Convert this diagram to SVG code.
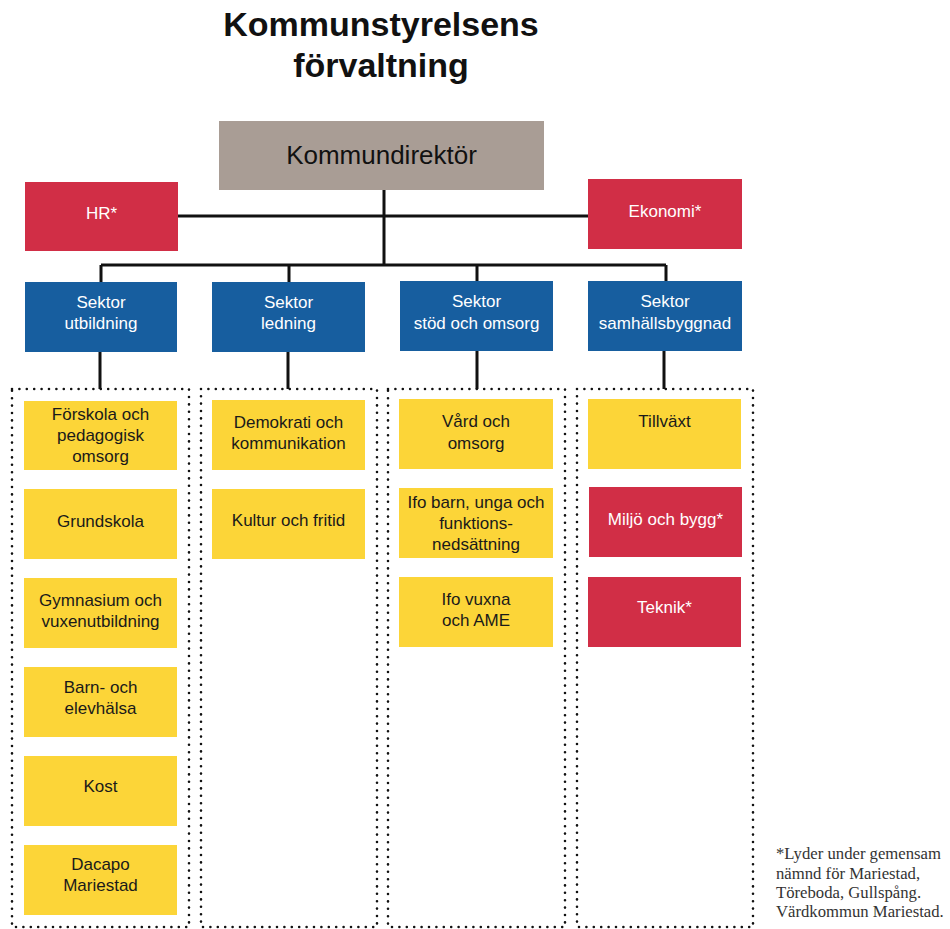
<svg xmlns="http://www.w3.org/2000/svg" width="950" height="929" viewBox="0 0 950 929">
<style>
.t{font-family:"Liberation Sans",Arial,sans-serif;text-anchor:middle}
.title{font-size:34px;font-weight:bold;fill:#111}
.dir{font-size:26px;fill:#111}
.w{font-size:17px;fill:#fff}
.d{font-size:17px;fill:#1a1a1a}
.gray{fill:#a99d95}
.red{fill:#d12e46}
.blue{fill:#175e9f}
.yel{fill:#fcd538}
.dot{fill:none;stroke:#111;stroke-width:2.6;stroke-dasharray:0 7.4;stroke-linecap:round}
.ln{fill:none;stroke:#111;stroke-width:3}
.note{font-family:"Liberation Serif","Times New Roman",serif;font-size:16.7px;fill:#333}
</style>
<rect width="950" height="929" fill="#fff"/>
<g id="title">
<text class="t title" x="381" y="36">Kommunstyrelsens</text>
<text class="t title" x="381" y="77">förvaltning</text>
</g>
<g id="frames">
<rect class="dot" x="12" y="389" width="177" height="538"/>
<rect class="dot" x="201" y="389" width="176" height="538"/>
<rect class="dot" x="388" y="389" width="177" height="538"/>
<rect class="dot" x="577" y="389" width="176" height="538"/>
</g>
<g id="connectors">
<path class="ln" d="M384 190V265M178 216H588M101 265H666M101 265V282M289 265V282M477 265V281M666 265V281M100 352V389M288 352V389M477 351V389M664 351V389"/>
</g>
<g id="kommundirektor"><rect class="gray" x="219" y="121" width="325" height="69"/><text class="t dir" x="381.5" y="164">Kommundirektör</text></g>
<g id="hr"><rect class="red" x="25" y="182" width="153" height="69"/><text class="t w" x="101.5" y="219">HR*</text></g>
<g id="ekonomi"><rect class="red" x="588" y="179" width="154" height="70"/><text class="t w" x="665" y="217">Ekonomi*</text></g>
<g id="sektor-utbildning"><rect class="blue" x="25" y="282" width="152" height="70"/><text class="t w" x="101" y="308">Sektor</text><text class="t w" x="101" y="329">utbildning</text></g>
<g id="sektor-ledning"><rect class="blue" x="212" y="282" width="153" height="70"/><text class="t w" x="288.5" y="308">Sektor</text><text class="t w" x="288.5" y="329">ledning</text></g>
<g id="sektor-stod"><rect class="blue" x="400" y="281" width="153" height="70"/><text class="t w" x="476.5" y="307">Sektor</text><text class="t w" x="476.5" y="329">stöd och omsorg</text></g>
<g id="sektor-samhall"><rect class="blue" x="588" y="281" width="154" height="70"/><text class="t w" x="665" y="307">Sektor</text><text class="t w" x="665" y="329">samhällsbyggnad</text></g>
<g id="forskola"><rect class="yel" x="24" y="401" width="153" height="69"/><text class="t d" x="100.5" y="420">Förskola och</text><text class="t d" x="100.5" y="441">pedagogisk</text><text class="t d" x="100.5" y="462">omsorg</text></g>
<g id="grundskola"><rect class="yel" x="24" y="489" width="153" height="70"/><text class="t d" x="100.5" y="527">Grundskola</text></g>
<g id="gymnasium"><rect class="yel" x="24" y="578" width="153" height="70"/><text class="t d" x="100.5" y="606">Gymnasium och</text><text class="t d" x="100.5" y="627">vuxenutbildning</text></g>
<g id="barn-elevhalsa"><rect class="yel" x="24" y="667" width="153" height="70"/><text class="t d" x="100.5" y="693">Barn- och</text><text class="t d" x="100.5" y="714">elevhälsa</text></g>
<g id="kost"><rect class="yel" x="24" y="756" width="153" height="70"/><text class="t d" x="100.5" y="792">Kost</text></g>
<g id="dacapo"><rect class="yel" x="24" y="845" width="153" height="70"/><text class="t d" x="100.5" y="870">Dacapo</text><text class="t d" x="100.5" y="891">Mariestad</text></g>
<g id="demokrati"><rect class="yel" x="212" y="400" width="153" height="70"/><text class="t d" x="288.5" y="428">Demokrati och</text><text class="t d" x="288.5" y="449">kommunikation</text></g>
<g id="kultur"><rect class="yel" x="212" y="489" width="153" height="70"/><text class="t d" x="288.5" y="526">Kultur och fritid</text></g>
<g id="vard"><rect class="yel" x="399" y="399" width="154" height="70"/><text class="t d" x="476" y="427">Vård och</text><text class="t d" x="476" y="449">omsorg</text></g>
<g id="ifo-barn"><rect class="yel" x="399" y="488" width="154" height="70"/><text class="t d" x="476" y="508">Ifo barn, unga och</text><text class="t d" x="476" y="529">funktions-</text><text class="t d" x="476" y="550">nedsättning</text></g>
<g id="ifo-vuxna"><rect class="yel" x="399" y="577" width="154" height="70"/><text class="t d" x="476" y="605">Ifo vuxna</text><text class="t d" x="476" y="626">och AME</text></g>
<g id="tillvaxt"><rect class="yel" x="588" y="399" width="153" height="70"/><text class="t d" x="664.5" y="427">Tillväxt</text></g>
<g id="miljo"><rect class="red" x="589" y="487" width="153" height="70"/><text class="t w" x="665.5" y="525">Miljö och bygg*</text></g>
<g id="teknik"><rect class="red" x="588" y="577" width="153" height="70"/><text class="t w" x="664.5" y="613">Teknik*</text></g>
<g id="footnote">
<text class="note" x="776" y="859">*Lyder under gemensam</text>
<text class="note" x="776" y="879">nämnd för Mariestad,</text>
<text class="note" x="776" y="898">Töreboda, Gullspång.</text>
<text class="note" x="776" y="917">Värdkommun Mariestad.</text>
</g>
</svg>
